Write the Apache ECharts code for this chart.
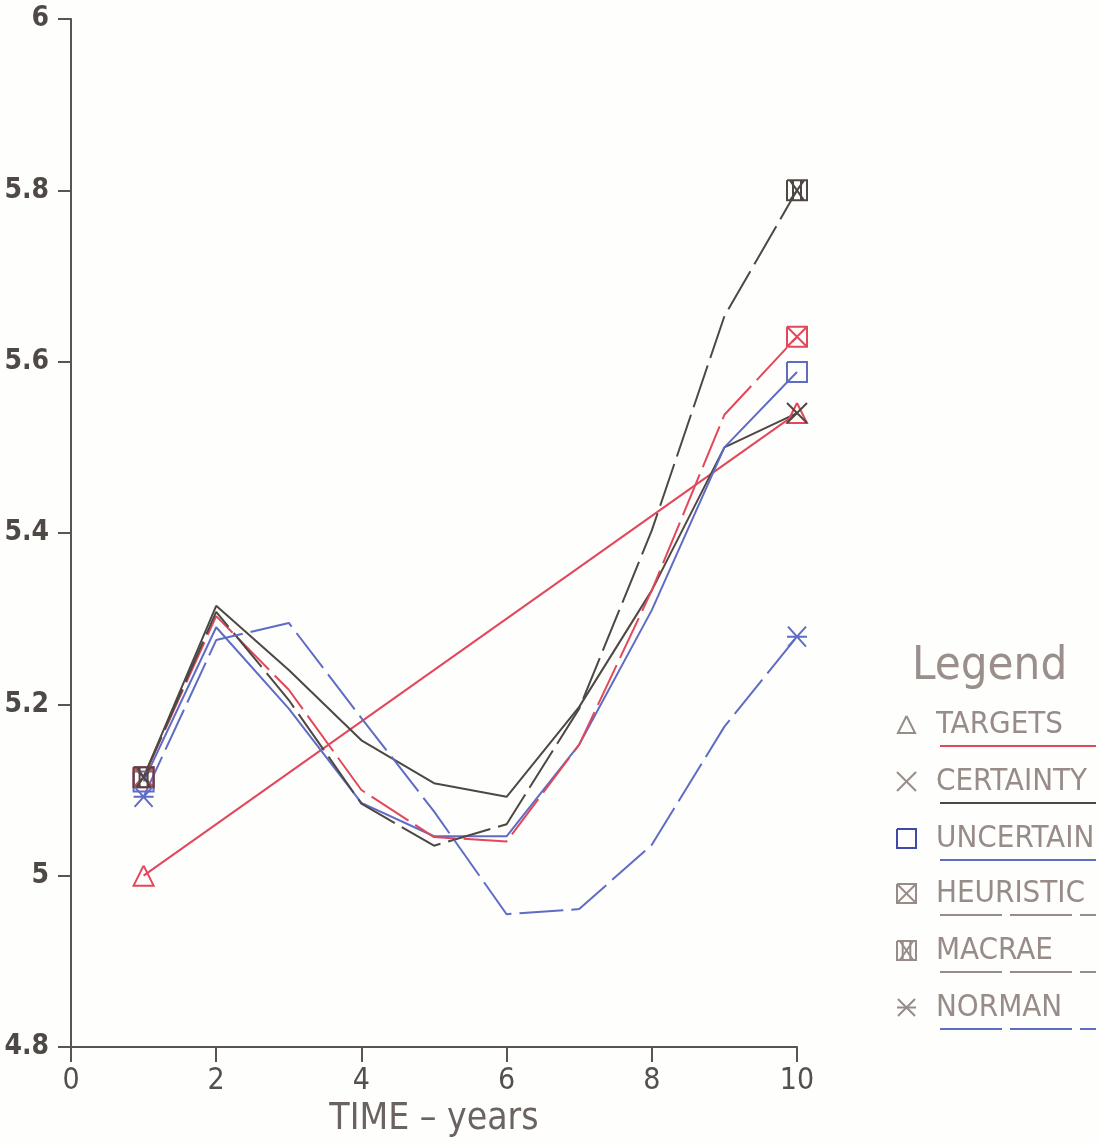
<!DOCTYPE html>
<html>
<head>
<meta charset="utf-8">
<script src="https://cdn.jsdelivr.net/npm/echarts@6/dist/echarts.min.js"></script>
<style>
  html, body { margin: 0; padding: 0; background: #fefefd; }
  #chart { width: 1099px; height: 1145px; }
</style>
</head>
<body>
<div id="chart"></div>
<script>
// values
const years = [1, 2, 3, 4, 5, 6, 7, 8, 9, 10];
const targetYears = [1, 10];
const targets = [5.0, 5.54];
const certainty = [5.115, 5.315, 5.24, 5.158, 5.108, 5.092, 5.197, 5.333, 5.50, 5.54];
const uncertain = [5.11, 5.29, 5.195, 5.085, 5.046, 5.046, 5.153, 5.31, 5.50, 5.588];
const heuristic = [5.115, 5.303, 5.217, 5.10, 5.045, 5.04, 5.153, 5.333, 5.538, 5.629];
const macrae = [5.115, 5.308, 5.205, 5.084, 5.035, 5.06, 5.195, 5.403, 5.653, 5.80];
const norman = [5.092, 5.275, 5.295, 5.184, 5.075, 4.955, 4.961, 5.036, 5.174, 5.279];
const legendNames = ["TARGETS", "CERTAINTY", "UNCERTAIN", "HEURISTIC", "MACRAE", "NORMAN"];

const RED = "#e2475a";
const DARK = "#4d4843";
const BLUE = "#5f6cc4";
const GREY = "#978c88";
const DASH = [44, 8];
const FONT = "'DejaVu Sans Condensed', sans-serif";

// marker outlines on a 20x20 box
const SEGS = {
  triangle: [[[10, 1], [19, 19], [1, 19], [10, 1]]],
  cross: [[[0, 0], [20, 20]], [[20, 0], [0, 20]]],
  square: [[[0, 0], [20, 0], [20, 20], [0, 20], [0, 0]]],
  boxX: [[[0, 0], [20, 0], [20, 20], [0, 20], [0, 0]], [[0, 0], [20, 20]], [[20, 0], [0, 20]]],
  hourglass: [[[0, 0], [20, 0], [20, 20], [0, 20], [0, 0]], [[3, 0], [17, 20]], [[17, 0], [3, 20]], [[6, 0], [6, 20]], [[14, 0], [14, 20]]],
  star: [[[1, 1], [19, 19]], [[19, 1], [1, 19]], [[0, 10], [20, 10]]]
};

function pathSymbol(kind) {
  return "path://" + SEGS[kind].map(s => s.map((p, i) => (i ? "L" : "M") + p[0] + " " + p[1]).join(" ")).join(" ");
}

function pairs(xs, ys) {
  return ys.map((v, i) => [xs[i], v]);
}

function makeSeries(name, xs, ys, color, kind, dashed) {
  const last = ys.length - 1;
  return {
    name: name,
    type: "line",
    data: pairs(xs, ys),
    showAllSymbol: true,
    symbol: pathSymbol(kind),
    symbolSize: (v, p) => (p.dataIndex === 0 || p.dataIndex === last ? 20 : 0),
    itemStyle: { color: "rgba(0,0,0,0)", borderColor: color, borderWidth: 2 },
    lineStyle: { color: color, width: 2, type: dashed ? DASH : "solid" },
    emphasis: { disabled: true },
    silent: true
  };
}

// legend drawn by hand: symbol, grey label, coloured sample line underneath
function legendGraphics() {
  const items = [
    { kind: "triangle", color: RED, dashed: false, symColor: GREY },
    { kind: "cross", color: DARK, dashed: false, symColor: GREY },
    { kind: "square", color: BLUE, dashed: false, symColor: "#4048a8" },
    { kind: "boxX", color: GREY, dashed: true, symColor: GREY },
    { kind: "hourglass", color: GREY, dashed: true, symColor: GREY },
    { kind: "star", color: BLUE, dashed: true, symColor: GREY }
  ];
  const rows = [724, 781, 838, 893, 950, 1007];
  const out = [{
    type: "text", x: 912, y: 643,
    style: { text: "Legend", fill: "#9a8f8b", font: "47px " + FONT }
  }];
  items.forEach((it, i) => {
    const y = rows[i];
    const s = 19 / 20;
    SEGS[it.kind].forEach(seg => {
      out.push({
        type: "polyline",
        shape: { points: seg.map(p => [897 + p[0] * s, y - 9 + p[1] * s]) },
        style: { stroke: it.symColor, lineWidth: 2, fill: null }
      });
    });
    out.push({
      type: "text", x: 936, y: y - 15,
      style: { text: legendNames[i], fill: GREY, font: "31px " + FONT }
    });
    out.push({
      type: "line",
      shape: { x1: 940, y1: y + 22, x2: 1096, y2: y + 22 },
      style: { stroke: it.color, lineWidth: 2, lineDash: it.dashed ? [62, 8] : null }
    });
  });
  return out;
}

const chart = echarts.init(document.getElementById("chart"));
chart.setOption({
  backgroundColor: "#fefefd",
  animation: false,
  grid: { left: 71, right: 302, top: 19, bottom: 98, containLabel: false },
  xAxis: {
    type: "value",
    min: 0,
    max: 10,
    interval: 2,
    name: "TIME \u2013 years",
    nameLocation: "middle",
    nameGap: 54,
    nameTextStyle: { color: "#6b635f", fontSize: 37, fontFamily: FONT },
    axisLine: { lineStyle: { color: "#5a5450", width: 2 } },
    axisTick: { inside: false, length: 15, lineStyle: { color: "#5a5450", width: 2 } },
    axisLabel: { color: "#555050", fontSize: 30, margin: 19, fontFamily: FONT },
    splitLine: { show: false }
  },
  yAxis: {
    type: "value",
    min: 4.8,
    max: 6,
    interval: 0.2,
    axisLine: { show: true, lineStyle: { color: "#5a5450", width: 2 } },
    axisTick: { show: true, inside: false, length: 13, lineStyle: { color: "#5a5450", width: 2 } },
    axisLabel: {
      color: "#4f4946", fontSize: 28, fontWeight: "bold", margin: 22,
      fontFamily: "'DejaVu Sans Condensed', sans-serif",
      formatter: v => String(+v.toFixed(1))
    },
    splitLine: { show: false }
  },
  series: [
    makeSeries("TARGETS", targetYears, targets, RED, "triangle", false),
    makeSeries("CERTAINTY", years, certainty, DARK, "cross", false),
    makeSeries("UNCERTAIN", years, uncertain, BLUE, "square", false),
    makeSeries("HEURISTIC", years, heuristic, RED, "boxX", true),
    makeSeries("MACRAE", years, macrae, DARK, "hourglass", true),
    makeSeries("NORMAN", years, norman, BLUE, "star", true)
  ],
  graphic: legendGraphics()
});
</script>
</body>
</html>
